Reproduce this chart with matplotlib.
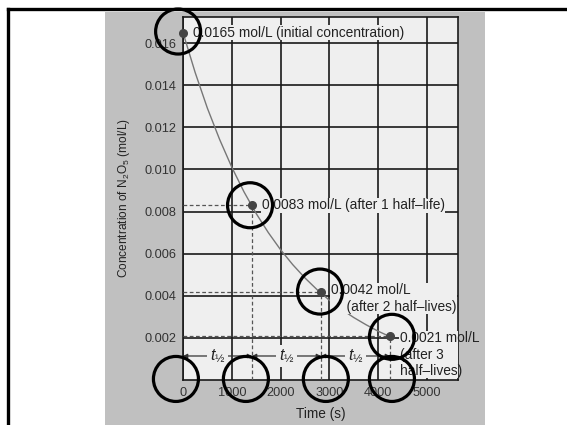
import numpy as np
import matplotlib
matplotlib.use("Agg")
import matplotlib.pyplot as plt
from matplotlib.patches import Rectangle
from matplotlib.lines import Line2D

plt.rcParams["font.family"] = ["Liberation Sans", "DejaVu Sans"]
plt.rcParams["mathtext.fontset"] = "custom"
plt.rcParams["mathtext.rm"] = "Liberation Sans"
plt.rcParams["mathtext.it"] = "Liberation Sans:italic"

# ==================================================
# Data
# ==================================================
curve_t = [0, 250, 500, 750, 1000, 1250, 1500, 1750, 2000, 2250, 2500,
           2750, 3000, 3250, 3500, 3750, 4000, 4245]
curve_c = [0.0165, 0.0146, 0.01291, 0.01143, 0.01011, 0.00894, 0.00791,
           0.00700, 0.00619, 0.00548, 0.00485, 0.00429, 0.00379, 0.00336,
           0.00297, 0.00263, 0.00232, 0.00206]

point_t = [0, 1415, 2830, 4245]
point_c = [0.0165, 0.0083, 0.0042, 0.0021]
point_labels = [
    "0.0165 mol/L (initial concentration)",
    "0.0083 mol/L (after 1 half\u2013life)",
    "0.0042 mol/L\n    (after 2 half\u2013lives)",
    "0.0021 mol/L\n(after 3\nhalf\u2013lives)",
]

halflife_y = 0.00114
xticks = [0, 1000, 2000, 3000, 4000, 5000]
yticks = [0.002, 0.004, 0.006, 0.008, 0.010, 0.012, 0.014, 0.016]

# black highlight circles (data coords)
circle_t = [-100, 1375, 2810, 4285, -145, 1290, 2930, 4285]
circle_c = [0.01655, 0.0083, 0.0042, 0.00205, 0.00005, 0.00005, 0.00005, 0.00005]

# ==================================================
# Figure
# ==================================================
fig = plt.figure(figsize=(5.67, 4.25), dpi=100)
fig.patch.set_facecolor("white")

fig.patches.append(Rectangle((105 / 567, 0), 380 / 567, 413 / 425,
                             transform=fig.transFigure, facecolor="#c0c0c0",
                             edgecolor="none", zorder=-5))
fig.lines.append(Line2D([8 / 567, 1.0], [1 - 9 / 425, 1 - 9 / 425],
                        transform=fig.transFigure, color="black", lw=2.4,
                        zorder=-4))
fig.lines.append(Line2D([8 / 567, 8 / 567], [0, 1 - 9 / 425],
                        transform=fig.transFigure, color="black", lw=2.4,
                        zorder=-4))

ax = fig.add_axes([183 / 567, 45 / 425, 275 / 567, 363 / 425])
ax.set_zorder(2)
ax.set_facecolor("#efefef")
ax.set_xlim(0, 5640)
ax.set_ylim(0, 0.01724)

ax.set_xticks(xticks)
ax.set_xticklabels([str(v) for v in xticks])
ax.set_yticks(yticks)
ax.set_yticklabels([f"{v:.3f}" for v in yticks])
ax.tick_params(length=0, labelsize=9.2, labelcolor="#333333", pad=5)
ax.grid(True, color="#1a1a1a", lw=1.2)
ax.set_axisbelow(True)
for s in ax.spines.values():
    s.set_color("#1a1a1a")
    s.set_linewidth(1.2)

ax.set_xlabel("Time (s)", fontsize=9.8, color="#222222", labelpad=6)
ax.set_ylabel("Concentration of N$_2$O$_5$ (mol/L)", fontsize=8.6,
              color="#222222", labelpad=9)

# decay curve and points
ax.plot(curve_t, curve_c, color="#777777", lw=1.0, zorder=3)
ax.plot(point_t, point_c, "o", color="#444444", ms=5.5, zorder=4, clip_on=False)

# dashed guides
for t, c in zip(point_t[1:], point_c[1:]):
    ax.plot([0, t], [c, c], ls=(0, (3, 2)), color="#555555", lw=0.9, zorder=3)
    ax.plot([t, t], [0, c], ls=(0, (3, 2)), color="#555555", lw=0.9, zorder=3)

# labels next to points
offsets = [(7, 0), (7, 0), (7, -5), (7, -13.5)]
for (t, c), lab, off in zip(zip(point_t, point_c), point_labels, offsets):
    txt = ax.annotate(lab, (t, c), xytext=off, textcoords="offset points",
                      ha="left", va="center", fontsize=9.9, color="#222222",
                      linespacing=1.2, zorder=5, annotation_clip=False,
                      bbox=dict(boxstyle="square,pad=0.05", fc="#efefef",
                                ec="none"))
    txt.get_bbox_patch().set_clip_path(ax.patch)

# half-life arrows
for t0, t1 in zip(point_t[:-1], point_t[1:]):
    ax.annotate("", xy=(t0, halflife_y), xytext=(t1, halflife_y),
                arrowprops=dict(arrowstyle="<|-|>", color="#333333", lw=0.9,
                                mutation_scale=6, shrinkA=0, shrinkB=0),
                zorder=4)
    ax.text((t0 + t1) / 2, halflife_y, r"$\mathit{t}_{½}$", ha="center",
            va="center", fontsize=11.5, color="#222222", zorder=5,
            bbox=dict(boxstyle="square,pad=0.15", fc="#efefef", ec="none"))

# highlight circles
ax.scatter(circle_t, circle_c, s=1050, facecolors="none", edgecolors="black",
           linewidths=2.3, zorder=10, clip_on=False)

fig.savefig("out.png", dpi=100)
